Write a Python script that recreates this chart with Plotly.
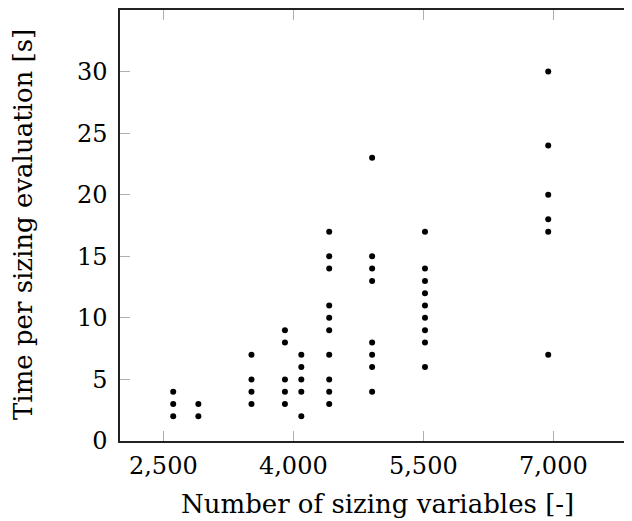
import plotly.graph_objects as go

# Data (x = number of sizing variables, y = time [s])
x_groups = [2614, 2904, 3517, 3903, 4092, 4414, 4909, 5519, 6941]
y_groups = [
    [4, 3, 2],
    [3, 2],
    [7, 5, 4, 3],
    [9, 8, 5, 4, 3],
    [7, 6, 5, 4, 2],
    [17, 15, 14, 11, 10, 9, 7, 5, 4, 3],
    [23, 15, 14, 13, 8, 7, 6, 4],
    [17, 14, 13, 12, 11, 10, 9, 8, 6],
    [30, 24, 20, 18, 17, 7],
]
x_ticks = [2500, 4000, 5500, 7000]
y_ticks = [0, 5, 10, 15, 20, 25, 30]
x_title = "Number of sizing variables [-]"
y_title = "Time per sizing evaluation [s]"

xs, ys = [], []
for xv, yl in zip(x_groups, y_groups):
    for yv in yl:
        xs.append(xv)
        ys.append(yv)

FONT = "DejaVu Serif"
FS_TICK = 24
FS_TITLE = 26
TICKC = "#b0b0b0"
# page is shown with an 8px body margin, so figure coords = page coords - 8
L, R, T, B = 112, 0, 2, 88
W, H = 632, 521
PW, PH = W - L - R, H - T - B

fig = go.Figure()
fig.add_trace(go.Scatter(x=xs, y=ys, mode="markers",
                         marker=dict(size=6, color="black"),
                         showlegend=False, hoverinfo="skip"))

fig.add_annotation(text=x_title, xref="paper", yref="paper",
                   x=(369 - L) / PW, y=(H - B - 496) / PH,
                   xanchor="center", yanchor="middle", showarrow=False,
                   font=dict(family=FONT, size=FS_TITLE, color="black"))
fig.add_annotation(text=y_title, xref="paper", yref="paper",
                   x=(15 - L) / PW, y=(H - B - 217) / PH,
                   xanchor="center", yanchor="middle", textangle=-90,
                   showarrow=False,
                   font=dict(family=FONT, size=FS_TITLE, color="black"))

fig.update_layout(
    width=W, height=H,
    margin=dict(l=L, r=R, t=T, b=B, autoexpand=False),
    paper_bgcolor="white", plot_bgcolor="white",
    font=dict(family=FONT, size=FS_TICK, color="black"),
    xaxis=dict(range=[2000, 8000], tickvals=x_ticks, tickformat=",d",
               ticks="inside", ticklen=10, tickcolor=TICKC, tickwidth=1.2,
               showline=True, linecolor="#222", linewidth=1.5, mirror="ticks",
               showgrid=False, zeroline=False, automargin=False,
               ticklabelstandoff=2),
    yaxis=dict(range=[0, 35], tickvals=y_ticks,
               ticks="inside", ticklen=10, tickcolor=TICKC, tickwidth=1.2,
               showline=True, linecolor="#222", linewidth=1.5, mirror="ticks",
               showgrid=False, zeroline=False, automargin=False,
               ticklabelstandoff=6),
)

fig.write_html("out.html")
